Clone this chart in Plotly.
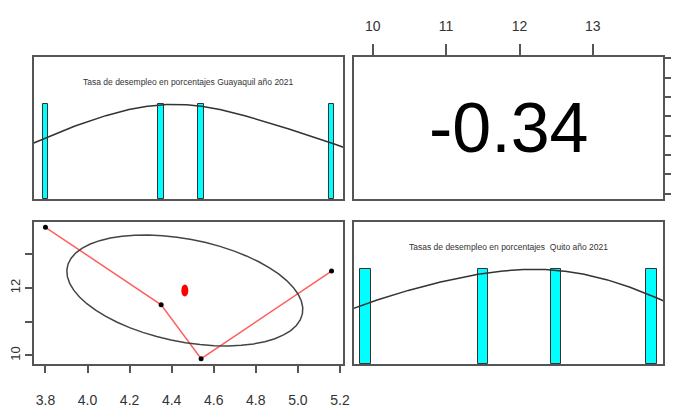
import numpy as np
import plotly.graph_objects as go

# ---- data ----
guayaquil = [3.80, 4.35, 4.54, 5.16]
quito = [13.8, 11.5, 9.9, 12.5]
title_g = "Tasa de desempleo en porcentajes Guayaquil año 2021"
title_q = "Tasas de desempleo en porcentajes  Quito año 2021"
ticks_g = [3.8, 4.0, 4.2, 4.4, 4.6, 4.8, 5.0, 5.2]
labels_g_bottom = ["3.8", "4.0", "4.2", "4.4", "4.6", "4.8", "5.0", "5.2"]
labels_g_right = ["3.8", "", "", "", "4.6", "", "5.0", ""]
ticks_q = [10, 11, 12, 13]
labels_q_top = ["10", "11", "12", "13"]
labels_q_left = ["10", "", "12", ""]
bw_g, bw_q = 0.40, 1.2  # density smoothing bandwidths

FONT = "Liberation Sans Narrow, Liberation Sans, Arial, sans-serif"
FRAME = "#555555"
TXT = "#333333"

# page body has an 8px margin: figure placed at (8, 8) in a 679x410 window
W, H, OFF = 671, 402, 8

g = np.array(guayaquil)
q = np.array(quito)


def rng(v):
    span = v.max() - v.min()
    return [v.min() - 0.04 * span, v.max() + 0.04 * span]


def kde(v, bw, r):
    xs = np.linspace(r[0] - 0.2, r[1] + 0.2, 512)
    d = np.exp(-((xs[:, None] - v[None, :]) ** 2) / (2 * bw * bw)).sum(axis=1)
    return xs, d / d.max()


def hist_bars(v):
    vals, cnt = np.unique(v, return_counts=True)
    inter = np.min(np.diff(vals)) * (len(vals) - 1) / 21
    return vals, cnt / cnt.max(), inter


def dx(a, b):
    return [(a - OFF) / W, (b - OFF) / W]


def dy(top, bot):
    return [(OFF + H - bot) / H, (OFF + H - top) / H]


rg, rq = rng(g), rng(q)
XL, XR = dx(34, 343), dx(354, 663)
YT, YB = dy(57, 199), dy(222, 364)

fig = go.Figure()

# top-left: histogram + density of Guayaquil
bx, by, bw = hist_bars(g)
fig.add_trace(go.Bar(x=bx, y=by, width=bw, marker=dict(color="#00ffff", line=dict(color="#333", width=1)),
                     xaxis="x2", yaxis="y2"))
kx, ky = kde(g, bw_g, rg)
fig.add_trace(go.Scatter(x=kx, y=ky, mode="lines", line=dict(color="#333", width=1.5), xaxis="x2", yaxis="y2"))

# bottom-right: histogram + density of Quito
bx, by, bw = hist_bars(q)
fig.add_trace(go.Bar(x=bx, y=by, width=bw, marker=dict(color="#00ffff", line=dict(color="#333", width=1)),
                     xaxis="x4", yaxis="y4"))
kx, ky = kde(q, bw_q, rq)
fig.add_trace(go.Scatter(x=kx, y=ky, mode="lines", line=dict(color="#333", width=1.5), xaxis="x4", yaxis="y4"))

# top-right: empty panel holding the correlation text (invisible anchor trace)
fig.add_trace(go.Scatter(x=[q.mean()], y=[g.mean()], mode="markers", marker=dict(opacity=0),
                         hoverinfo="skip", xaxis="x3", yaxis="y3"))

# bottom-left: scatter with ellipse and smoother
order = np.argsort(g)
fig.add_trace(go.Scatter(x=g[order], y=q[order], mode="lines", line=dict(color="rgba(255,40,40,0.75)", width=1.5),
                         xaxis="x", yaxis="y"))
mx, my = g.mean(), q.mean()
sx, sy = g.std(ddof=1), q.std(ddof=1)
r = np.corrcoef(g, q)[0, 1]
ang = np.arange(52) * 2 * np.pi / 51
circ = np.column_stack([np.cos(ang), np.sin(ang)])
th = np.sign(r) / np.sqrt(2)
shape = np.diag([np.sqrt(1 + r), np.sqrt(1 - r)]) @ np.array([[th, th], [-th, th]])
ell = circ @ shape
fig.add_trace(go.Scatter(x=ell[:, 0] * sx + mx, y=ell[:, 1] * sy + my, mode="lines",
                         line=dict(color="#444", width=1.5), xaxis="x", yaxis="y"))
fig.add_trace(go.Scatter(x=g, y=q, mode="markers", marker=dict(color="black", size=5), xaxis="x", yaxis="y"))
fig.add_shape(type="circle", xref="x", yref="y", xsizemode="pixel", ysizemode="pixel",
              xanchor=mx, yanchor=my, x0=-3.5, x1=3.5, y0=-6, y1=6,
              fillcolor="red", line=dict(color="red", width=0))

# annotations
fig.add_annotation(text=f"{r:.2f}", xref="x3 domain", yref="y3 domain", x=0.5, y=0.5, showarrow=False,
                   font=dict(family=FONT, size=70, color="black"))
fig.add_annotation(text=title_g, xref="x2 domain", yref="y2", x=0.5, y=1.236, showarrow=False,
                   font=dict(family=FONT, size=8.5, color=TXT))
fig.add_annotation(text=title_q, xref="x4 domain", yref="y4", x=0.5, y=1.236, showarrow=False,
                   font=dict(family=FONT, size=8.5, color=TXT))

frame = dict(showline=True, mirror=True, linecolor=FRAME, linewidth=1.5, showgrid=False, zeroline=False,
             automargin=False)
noticks = dict(frame, showticklabels=False, ticks="")
tickfont = dict(family=FONT, size=14, color=TXT)

fig.update_layout(
    width=W, height=H, margin=dict(l=0, r=0, t=0, b=0, autoexpand=False),
    paper_bgcolor="white", plot_bgcolor="white", showlegend=False, bargap=0,
    xaxis=dict(frame, domain=XL, anchor="y", range=rg, tickvals=ticks_g, ticktext=labels_g_bottom,
               ticks="outside", ticklen=7, tickcolor=FRAME, tickwidth=1.5, tickfont=tickfont,
               ticklabelstandoff=15),
    yaxis=dict(frame, domain=YB, anchor="x", range=rq, tickvals=ticks_q, ticktext=labels_q_left,
               ticks="outside", ticklen=7, tickcolor=FRAME, tickwidth=1.5, tickfont=dict(tickfont, size=13),
               tickangle=-90, ticklabelstandoff=0),
    xaxis2=dict(noticks, domain=XL, anchor="y2", range=rg),
    yaxis2=dict(noticks, domain=YT, anchor="x2", range=[0, 1.5]),
    xaxis3=dict(frame, domain=XR, anchor="y3", side="top", range=rq, tickvals=ticks_q, ticktext=labels_q_top,
                ticks="outside", ticklen=11, tickcolor=FRAME, tickwidth=1.5, tickfont=tickfont,
                ticklabelstandoff=8),
    yaxis3=dict(frame, domain=YT, anchor="x3", side="right", range=rg, tickvals=ticks_g, ticktext=labels_g_right,
                ticks="outside", ticklen=7, tickcolor=FRAME, tickwidth=1.5,
                tickfont=dict(family=FONT, size=14, color="#d8b48c"), tickangle=-90, ticklabelstandoff=6),
    xaxis4=dict(noticks, domain=XR, anchor="y4", range=rq),
    yaxis4=dict(noticks, domain=YB, anchor="x4", range=[0, 1.5]),
)

fig.write_html("out.html")
